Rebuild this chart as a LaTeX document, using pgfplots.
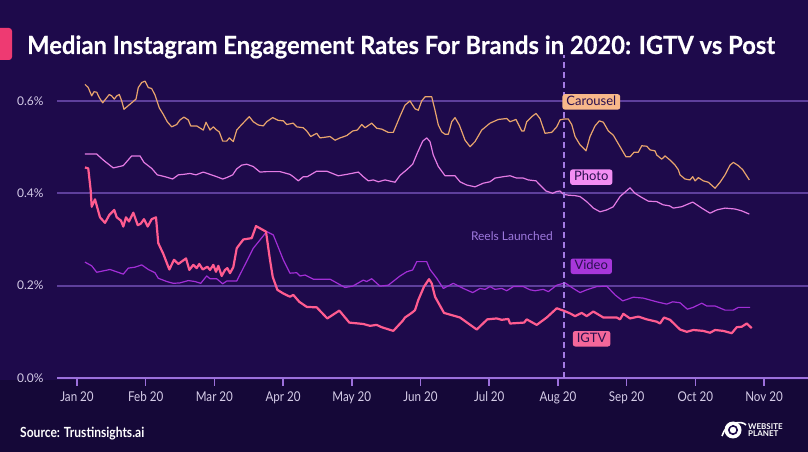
\documentclass[border=0pt]{standalone}
\usepackage{pgfplots}
\pgfplotsset{compat=1.18}
\usepackage{fontspec}
\setmainfont{Lato}
\newfontfamily\condfont[FakeStretch=0.86]{Lato}
\newfontfamily\titlefont[FakeStretch=0.95, FakeBold=0.4]{Lato}
\definecolor{bg}{HTML}{1E0A4B}
\definecolor{foot}{HTML}{150838}
\definecolor{gridc}{HTML}{5E3F9C}
\definecolor{axisc}{HTML}{9C70DC}
\definecolor{tickc}{HTML}{D5CCE8}
\definecolor{carl}{HTML}{E9A56D}
\definecolor{carb}{HTML}{F8B88A}
\definecolor{phol}{HTML}{E47BE4}
\definecolor{phob}{HTML}{F38EF3}
\definecolor{vidl}{HTML}{A22ED6}
\definecolor{vidb}{HTML}{A737DA}
\definecolor{igl}{HTML}{FF5C90}
\definecolor{igb}{HTML}{F4679A}
\definecolor{boxt}{HTML}{2A1050}
\definecolor{reelc}{HTML}{9D78DD}
\definecolor{dashc}{HTML}{A47BE2}
\definecolor{accent}{HTML}{EE3A72}
\begin{document}
\begin{tikzpicture}[x=1pt,y=1pt]
\useasboundingbox (0,0) rectangle (808,452);
\fill[bg] (0,0) rectangle (808,452);
\fill[foot] (0,0) rectangle (808,72);
\fill[accent, rounded corners=3pt] (-6,392) rectangle (12,424);
\node[anchor=base west, inner sep=0, text=white, font=\titlefont\bfseries\fontsize{25}{25}\selectfont] at (27,398) {Median Instagram Engagement Rates For Brands in 2020: IGTV vs Post};
\node[anchor=base west, inner sep=0, text=white, font=\condfont\bfseries\fontsize{14}{14}\selectfont] at (20,14) {Source: Trustinsights.ai};
% logo
\fill[white] (733,22) circle (8.5);
\draw[bg, line width=1.6pt] (733,22) circle (4.2);
\draw[white, line width=1.6pt] (722,16) .. controls (726,30) and (742,32) .. (746,27);
\node[anchor=west, inner sep=0, text=white, font=\bfseries\fontsize{8}{8}\selectfont, align=left] at (748,22) {WEBSITE\\[-1pt]PLANET};
\begin{axis}[
  at={(57pt,74pt)}, anchor=south west, scale only axis,
  width=751pt, height=323.2pt,
  xmin=-0.291, xmax=10.640, ymin=0, ymax=0.7,
  axis x line*=bottom, axis y line*=left,
  y axis line style={draw=none},
  x axis line style={draw=axisc, line width=2pt},
  xtick={0,1,2,3,4,5,6,7,8,9,10},
  xticklabels={Jan 20,Feb 20,Mar 20,Apr 20,May 20,Jun 20,Jul 20,Aug 20,Sep 20,Oct 20,Nov 20},
  ytick={0,0.2,0.4,0.6},
  yticklabels={0.0\%,0.2\%,0.4\%,0.6\%},
  tick align=outside,
  x tick style={draw=axisc, line width=1.6pt},
  xtick pos=bottom,
  y tick style={draw=none},
  major tick length=8pt,
  xticklabel style={font=\condfont\fontsize{13.5}{13.5}\selectfont, text=tickc, yshift=-2.5pt},
  yticklabel style={font=\fontsize{12}{12}\selectfont, text=tickc, xshift=-2pt},
  ymajorgrids, grid style={draw=gridc, line width=1.8pt},
  clip=false,
]
% Carousel
\addplot[carl, line width=1.2pt, line join=round] coordinates {
(0.116,0.636)(0.164,0.629)(0.214,0.611)(0.247,0.620)(0.287,0.619)(0.325,0.607)(0.374,0.596)(0.432,0.607)(0.470,0.614)(0.505,0.611)(0.543,0.604)(0.578,0.611)(0.616,0.614)(0.651,0.600)(0.684,0.582)(0.771,0.593)(0.859,0.604)(0.892,0.629)(0.942,0.640)(0.990,0.643)(1.038,0.629)(1.087,0.627)(1.135,0.613)(1.198,0.585)(1.256,0.571)(1.314,0.555)(1.378,0.544)(1.451,0.549)(1.499,0.559)(1.557,0.565)(1.620,0.559)(1.655,0.546)(1.742,0.546)(1.838,0.537)(1.878,0.554)(1.936,0.537)(1.984,0.544)(2.033,0.537)(2.071,0.533)(2.121,0.513)(2.179,0.513)(2.217,0.520)(2.275,0.512)(2.325,0.537)(2.397,0.549)(2.508,0.566)(2.566,0.555)(2.639,0.548)(2.712,0.546)(2.761,0.555)(2.849,0.564)(2.930,0.558)(3.003,0.557)(3.052,0.549)(3.148,0.552)(3.198,0.544)(3.294,0.542)(3.344,0.535)(3.402,0.523)(3.489,0.530)(3.537,0.520)(3.635,0.522)(3.683,0.523)(3.756,0.515)(3.828,0.520)(3.926,0.525)(4.013,0.535)(4.080,0.537)(4.144,0.549)(4.192,0.542)(4.290,0.552)(4.362,0.541)(4.435,0.539)(4.531,0.532)(4.604,0.532)(4.702,0.567)(4.774,0.591)(4.847,0.600)(4.920,0.583)(4.968,0.580)(5.017,0.600)(5.066,0.609)(5.163,0.609)(5.211,0.580)(5.259,0.548)(5.309,0.533)(5.357,0.528)(5.405,0.528)(5.454,0.555)(5.502,0.564)(5.565,0.548)(5.648,0.515)(5.721,0.501)(5.793,0.512)(5.891,0.537)(6.012,0.552)(6.133,0.560)(6.255,0.562)(6.303,0.555)(6.390,0.560)(6.473,0.535)(6.507,0.535)(6.546,0.555)(6.619,0.566)(6.681,0.573)(6.739,0.562)(6.812,0.530)(6.910,0.532)(6.983,0.544)(7.031,0.559)(7.089,0.561)(7.151,0.561)(7.201,0.549)(7.249,0.523)(7.322,0.505)(7.409,0.492)(7.467,0.523)(7.540,0.546)(7.603,0.557)(7.661,0.554)(7.734,0.535)(7.806,0.526)(7.904,0.501)(7.991,0.479)(8.049,0.479)(8.108,0.489)(8.170,0.489)(8.220,0.503)(8.293,0.502)(8.341,0.494)(8.413,0.492)(8.438,0.483)(8.511,0.474)(8.559,0.481)(8.632,0.472)(8.705,0.461)(8.753,0.451)(8.777,0.440)(8.850,0.431)(8.923,0.429)(8.962,0.436)(8.996,0.427)(9.044,0.434)(9.116,0.427)(9.189,0.424)(9.287,0.411)(9.360,0.424)(9.432,0.440)(9.505,0.461)(9.553,0.467)(9.626,0.460)(9.690,0.451)(9.786,0.429)
};
% Photo
\addplot[phol, line width=1.2pt, line join=round] coordinates {
(0.116,0.485)(0.287,0.485)(0.383,0.472)(0.528,0.455)(0.674,0.460)(0.796,0.481)(0.917,0.481)(0.975,0.467)(1.087,0.454)(1.169,0.440)(1.281,0.436)(1.393,0.431)(1.475,0.440)(1.547,0.441)(1.645,0.443)(1.732,0.440)(1.838,0.446)(1.936,0.441)(2.033,0.436)(2.121,0.431)(2.179,0.434)(2.266,0.440)(2.325,0.453)(2.397,0.461)(2.470,0.463)(2.566,0.458)(2.664,0.446)(2.761,0.447)(2.955,0.447)(3.100,0.441)(3.148,0.436)(3.221,0.427)(3.294,0.436)(3.352,0.436)(3.489,0.448)(3.635,0.448)(3.803,0.438)(3.926,0.441)(4.095,0.446)(4.167,0.436)(4.240,0.427)(4.313,0.429)(4.386,0.425)(4.483,0.429)(4.629,0.424)(4.702,0.439)(4.799,0.451)(4.886,0.463)(4.953,0.487)(5.032,0.513)(5.090,0.520)(5.138,0.512)(5.186,0.483)(5.259,0.458)(5.357,0.438)(5.502,0.438)(5.575,0.425)(5.672,0.418)(5.793,0.414)(5.914,0.422)(6.012,0.425)(6.084,0.433)(6.205,0.436)(6.303,0.438)(6.400,0.433)(6.496,0.433)(6.569,0.429)(6.681,0.427)(6.739,0.418)(6.827,0.405)(6.924,0.400)(6.983,0.404)(7.031,0.405)(7.079,0.398)(7.151,0.396)(7.249,0.395)(7.322,0.393)(7.419,0.382)(7.515,0.368)(7.613,0.360)(7.710,0.364)(7.806,0.371)(7.904,0.393)(8.049,0.412)(8.122,0.400)(8.220,0.391)(8.316,0.383)(8.438,0.382)(8.534,0.375)(8.622,0.373)(8.680,0.368)(8.802,0.371)(8.962,0.381)(9.093,0.368)(9.214,0.357)(9.312,0.364)(9.432,0.368)(9.578,0.366)(9.675,0.362)(9.786,0.355)
};
% Video
\addplot[vidl, line width=1.2pt, line join=round] coordinates {
(0.116,0.251)(0.214,0.243)(0.287,0.229)(0.383,0.232)(0.480,0.235)(0.578,0.230)(0.674,0.225)(0.747,0.238)(0.844,0.240)(0.942,0.245)(1.038,0.235)(1.135,0.228)(1.183,0.216)(1.306,0.209)(1.402,0.205)(1.499,0.206)(1.620,0.211)(1.718,0.209)(1.801,0.205)(1.888,0.221)(1.936,0.215)(2.033,0.215)(2.121,0.204)(2.179,0.210)(2.325,0.210)(2.566,0.281)(2.761,0.317)(2.857,0.310)(3.003,0.256)(3.100,0.227)(3.198,0.228)(3.246,0.221)(3.319,0.223)(3.440,0.214)(3.683,0.214)(3.780,0.206)(3.901,0.196)(4.013,0.199)(4.167,0.212)(4.217,0.209)(4.290,0.215)(4.410,0.199)(4.531,0.201)(4.702,0.221)(4.799,0.230)(4.886,0.234)(4.945,0.252)(5.090,0.252)(5.138,0.235)(5.236,0.216)(5.332,0.194)(5.478,0.205)(5.623,0.194)(5.760,0.185)(5.866,0.194)(5.939,0.192)(6.012,0.198)(6.084,0.192)(6.182,0.194)(6.255,0.189)(6.352,0.198)(6.496,0.198)(6.594,0.191)(6.667,0.189)(6.787,0.192)(6.860,0.187)(6.983,0.201)(7.103,0.206)(7.224,0.194)(7.322,0.185)(7.419,0.191)(7.565,0.198)(7.710,0.199)(7.831,0.180)(7.943,0.167)(8.098,0.175)(8.243,0.173)(8.438,0.165)(8.584,0.160)(8.671,0.165)(8.777,0.163)(8.884,0.149)(8.971,0.153)(9.093,0.162)(9.166,0.156)(9.287,0.156)(9.432,0.147)(9.553,0.147)(9.626,0.153)(9.796,0.153)
};
% IGTV
\addplot[igl, line width=2.2pt, line join=round] coordinates {
(0.116,0.456)(0.164,0.454)(0.199,0.407)(0.214,0.371)(0.262,0.387)(0.335,0.348)(0.408,0.336)(0.470,0.353)(0.543,0.364)(0.578,0.348)(0.640,0.341)(0.674,0.328)(0.713,0.348)(0.757,0.339)(0.820,0.358)(0.884,0.331)(0.927,0.334)(0.975,0.344)(1.029,0.328)(1.087,0.344)(1.150,0.348)(1.183,0.292)(1.256,0.269)(1.344,0.235)(1.412,0.256)(1.475,0.247)(1.587,0.259)(1.635,0.234)(1.693,0.245)(1.742,0.238)(1.780,0.247)(1.830,0.235)(1.897,0.241)(1.936,0.234)(1.984,0.245)(2.023,0.230)(2.057,0.243)(2.106,0.221)(2.154,0.234)(2.188,0.238)(2.227,0.227)(2.275,0.240)(2.325,0.281)(2.421,0.300)(2.543,0.303)(2.606,0.329)(2.751,0.317)(2.809,0.256)(2.849,0.219)(2.916,0.191)(3.003,0.183)(3.100,0.176)(3.148,0.180)(3.236,0.165)(3.344,0.154)(3.489,0.153)(3.643,0.129)(3.818,0.146)(3.964,0.120)(4.167,0.117)(4.265,0.113)(4.362,0.115)(4.435,0.110)(4.604,0.102)(4.741,0.124)(4.774,0.131)(4.872,0.141)(4.920,0.147)(4.968,0.169)(5.051,0.198)(5.124,0.214)(5.163,0.205)(5.211,0.176)(5.342,0.141)(5.575,0.131)(5.818,0.105)(5.972,0.127)(6.109,0.129)(6.182,0.126)(6.278,0.128)(6.303,0.118)(6.507,0.120)(6.546,0.127)(6.691,0.115)(6.837,0.131)(6.983,0.151)(7.079,0.146)(7.176,0.140)(7.249,0.134)(7.346,0.141)(7.419,0.134)(7.515,0.144)(7.661,0.131)(7.856,0.131)(7.904,0.127)(7.952,0.139)(8.049,0.129)(8.170,0.133)(8.293,0.127)(8.438,0.122)(8.486,0.118)(8.544,0.131)(8.632,0.126)(8.777,0.105)(8.875,0.100)(8.971,0.104)(9.116,0.102)(9.214,0.098)(9.287,0.104)(9.408,0.102)(9.530,0.097)(9.603,0.110)(9.675,0.111)(9.748,0.118)(9.821,0.108)
};
% Reels launched marker
\addplot[dashc, line width=1.8pt, dash pattern=on 6pt off 4pt] coordinates {(7.085,0) (7.085,0.7)};
\node[anchor=east, inner sep=0, text=reelc, font=\fontsize{12}{12}\selectfont] at (axis cs:6.93,0.308) {Reels Launched};
\tikzset{lab/.style={rounded corners=2.5pt, inner xsep=4pt, inner ysep=0pt, minimum height=15.5pt, text=boxt, font=\fontsize{13}{13}\selectfont, text height=9.5pt, text depth=2.5pt}}
\node[lab, fill=carb] at (axis cs:7.486,0.598) {Carousel};
\node[lab, fill=phob] at (axis cs:7.485,0.435) {Photo};
\node[lab, fill=vidb] at (axis cs:7.485,0.242) {Video};
\node[lab, fill=igb] at (axis cs:7.490,0.085) {IGTV};
\end{axis}
\end{tikzpicture}
\end{document}
